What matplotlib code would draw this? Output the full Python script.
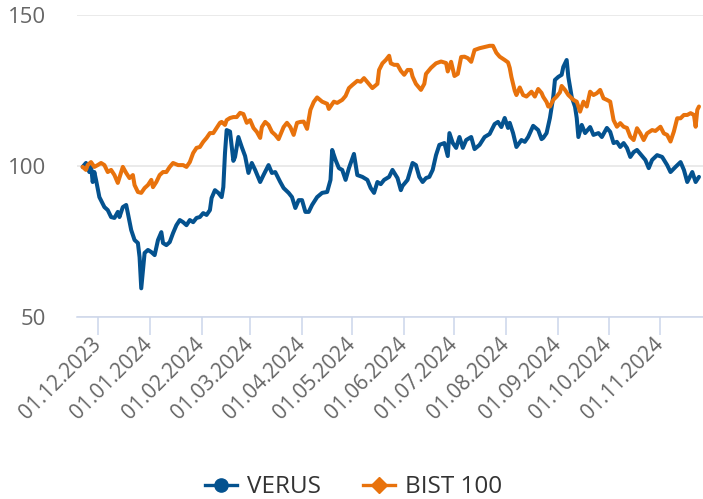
import matplotlib
matplotlib.use("Agg")
import matplotlib.pyplot as plt
import matplotlib.dates as mdates
from matplotlib.lines import Line2D
import pandas as pd

verus_dates = [
    "2023-11-22", "2023-11-24", "2023-11-26", "2023-11-27", "2023-11-28", "2023-11-29", "2023-11-30",
    "2023-12-02", "2023-12-05", "2023-12-07", "2023-12-09", "2023-12-11", "2023-12-13", "2023-12-14",
    "2023-12-16", "2023-12-18", "2023-12-19", "2023-12-21", "2023-12-23", "2023-12-25", "2023-12-26",
    "2023-12-27", "2023-12-29", "2023-12-31", "2024-01-02", "2024-01-04", "2024-01-06", "2024-01-08",
    "2024-01-09", "2024-01-11", "2024-01-13", "2024-01-15", "2024-01-17", "2024-01-19", "2024-01-21",
    "2024-01-23", "2024-01-25", "2024-01-27", "2024-01-29", "2024-01-31", "2024-02-02", "2024-02-04",
    "2024-02-06", "2024-02-07", "2024-02-09", "2024-02-11", "2024-02-13", "2024-02-14", "2024-02-15",
    "2024-02-16", "2024-02-18", "2024-02-20", "2024-02-21", "2024-02-23", "2024-02-25", "2024-02-27",
    "2024-02-29", "2024-03-02", "2024-03-04", "2024-03-07", "2024-03-09", "2024-03-12", "2024-03-14",
    "2024-03-16", "2024-03-19", "2024-03-21", "2024-03-24", "2024-03-26", "2024-03-28", "2024-03-30",
    "2024-04-01", "2024-04-03", "2024-04-05", "2024-04-07", "2024-04-10", "2024-04-13", "2024-04-16",
    "2024-04-18", "2024-04-19", "2024-04-21", "2024-04-23", "2024-04-25", "2024-04-27", "2024-04-29",
    "2024-05-02", "2024-05-04", "2024-05-07", "2024-05-10", "2024-05-12", "2024-05-14", "2024-05-16",
    "2024-05-18", "2024-05-20", "2024-05-23", "2024-05-25", "2024-05-28", "2024-05-30", "2024-05-31",
    "2024-06-03", "2024-06-06", "2024-06-08", "2024-06-10", "2024-06-12", "2024-06-14", "2024-06-16",
    "2024-06-18", "2024-06-20", "2024-06-22", "2024-06-25", "2024-06-27", "2024-06-28", "2024-06-30",
    "2024-07-02", "2024-07-04", "2024-07-06", "2024-07-08", "2024-07-11", "2024-07-13", "2024-07-16",
    "2024-07-19", "2024-07-22", "2024-07-25", "2024-07-27", "2024-07-29", "2024-07-31", "2024-08-02",
    "2024-08-03", "2024-08-05", "2024-08-07", "2024-08-10", "2024-08-12", "2024-08-14", "2024-08-17",
    "2024-08-20", "2024-08-22", "2024-08-23", "2024-08-25", "2024-08-27", "2024-08-29", "2024-08-30",
    "2024-09-01", "2024-09-03", "2024-09-04", "2024-09-06", "2024-09-07", "2024-09-09", "2024-09-11",
    "2024-09-12", "2024-09-13", "2024-09-15", "2024-09-17", "2024-09-20", "2024-09-22", "2024-09-25",
    "2024-09-27", "2024-09-30", "2024-10-02", "2024-10-04", "2024-10-06", "2024-10-08", "2024-10-10",
    "2024-10-12", "2024-10-14", "2024-10-16", "2024-10-18", "2024-10-20", "2024-10-23", "2024-10-25",
    "2024-10-27", "2024-10-30", "2024-11-02", "2024-11-05", "2024-11-07", "2024-11-10", "2024-11-13",
    "2024-11-15", "2024-11-17", "2024-11-20", "2024-11-22", "2024-11-24",
]
verus_values = [
    99.7, 101.0, 98.0, 100.3, 94.7, 98.0, 95.4,
    89.7, 86.4, 85.4, 83.1, 82.8, 84.8, 83.1,
    86.4, 87.1, 84.4, 78.8, 75.5, 74.5, 69.8,
    59.5, 71.2, 72.2, 71.5, 70.5, 75.5, 78.1,
    74.5, 73.8, 74.8, 77.8, 80.4, 82.1, 81.4,
    80.4, 82.1, 81.4, 82.8, 83.1, 84.4, 83.8,
    85.4, 89.4, 92.0, 91.1, 89.7, 93.0, 104.3,
    111.9, 111.4, 101.7, 103.0, 109.6, 106.3, 103.3,
    97.7, 101.0, 98.7, 94.7, 97.0, 100.3, 97.7,
    98.0, 94.7, 92.7, 91.1, 89.7, 86.1, 88.7,
    88.7, 84.8, 84.8, 87.1, 89.7, 91.1, 91.4,
    95.4, 105.3, 102.0, 99.3, 98.7, 95.4, 99.3,
    104.0, 97.0, 96.4, 95.4, 92.7, 91.1, 94.7,
    94.0, 95.4, 96.4, 98.7, 96.0, 92.0, 93.4,
    95.4, 101.0, 100.3, 96.4, 94.7, 96.0, 96.4,
    98.7, 103.6, 107.0, 107.6, 103.3, 110.9, 107.6,
    106.0, 109.6, 106.0, 108.6, 109.6, 105.6, 107.0,
    109.6, 110.6, 113.9, 114.6, 112.9, 115.9, 112.6,
    114.3, 110.9, 106.3, 108.6, 108.0, 109.6, 113.3,
    111.9, 108.9, 109.3, 110.9, 115.9, 122.9, 128.5,
    129.5, 130.2, 132.8, 135.1, 129.5, 122.9, 119.6,
    115.9, 109.6, 113.6, 110.9, 112.9, 110.3, 110.9,
    109.6, 112.6, 111.3, 107.6, 108.0, 106.3, 107.6,
    106.0, 103.0, 104.6, 105.3, 104.0, 102.0, 99.3,
    102.0, 103.6, 103.0, 100.3, 98.0, 99.7, 101.3,
    98.7, 94.7, 98.0, 94.7, 96.4,
]

bist_dates = [
    "2023-11-22", "2023-11-24", "2023-11-25", "2023-11-27", "2023-11-29", "2023-12-01", "2023-12-03",
    "2023-12-05", "2023-12-07", "2023-12-09", "2023-12-11", "2023-12-13", "2023-12-15", "2023-12-16",
    "2023-12-18", "2023-12-20", "2023-12-22", "2023-12-23", "2023-12-25", "2023-12-27", "2023-12-29",
    "2023-12-31", "2024-01-02", "2024-01-03", "2024-01-05", "2024-01-07", "2024-01-09", "2024-01-11",
    "2024-01-13", "2024-01-15", "2024-01-18", "2024-01-21", "2024-01-23", "2024-01-25", "2024-01-27",
    "2024-01-29", "2024-01-31", "2024-02-02", "2024-02-04", "2024-02-06", "2024-02-08", "2024-02-10",
    "2024-02-12", "2024-02-13", "2024-02-15", "2024-02-16", "2024-02-18", "2024-02-20", "2024-02-22",
    "2024-02-24", "2024-02-26", "2024-02-28", "2024-03-01", "2024-03-03", "2024-03-05", "2024-03-07",
    "2024-03-08", "2024-03-10", "2024-03-12", "2024-03-14", "2024-03-16", "2024-03-18", "2024-03-21",
    "2024-03-23", "2024-03-25", "2024-03-27", "2024-03-29", "2024-03-31", "2024-04-02", "2024-04-04",
    "2024-04-06", "2024-04-08", "2024-04-10", "2024-04-13", "2024-04-16", "2024-04-17", "2024-04-20",
    "2024-04-22", "2024-04-25", "2024-04-27", "2024-04-29", "2024-05-01", "2024-05-04", "2024-05-06",
    "2024-05-08", "2024-05-10", "2024-05-13", "2024-05-16", "2024-05-17", "2024-05-19", "2024-05-21",
    "2024-05-23", "2024-05-24", "2024-05-26", "2024-05-28", "2024-05-30", "2024-06-01", "2024-06-03",
    "2024-06-05", "2024-06-06", "2024-06-08", "2024-06-11", "2024-06-13", "2024-06-14", "2024-06-17",
    "2024-06-20", "2024-06-23", "2024-06-26", "2024-06-27", "2024-06-29", "2024-07-01", "2024-07-03",
    "2024-07-05", "2024-07-07", "2024-07-09", "2024-07-11", "2024-07-13", "2024-07-16", "2024-07-19",
    "2024-07-22", "2024-07-24", "2024-07-26", "2024-07-28", "2024-07-31", "2024-08-02", "2024-08-03",
    "2024-08-04", "2024-08-06", "2024-08-07", "2024-08-09", "2024-08-11", "2024-08-13", "2024-08-16",
    "2024-08-18", "2024-08-20", "2024-08-22", "2024-08-23", "2024-08-25", "2024-08-26", "2024-08-27",
    "2024-08-29", "2024-08-31", "2024-09-02", "2024-09-03", "2024-09-05", "2024-09-07", "2024-09-10",
    "2024-09-12", "2024-09-14", "2024-09-16", "2024-09-18", "2024-09-20", "2024-09-22", "2024-09-24",
    "2024-09-26", "2024-09-28", "2024-09-30", "2024-10-02", "2024-10-04", "2024-10-06", "2024-10-08",
    "2024-10-10", "2024-10-12", "2024-10-14", "2024-10-16", "2024-10-18", "2024-10-20", "2024-10-22",
    "2024-10-24", "2024-10-27", "2024-10-29", "2024-11-01", "2024-11-03", "2024-11-05", "2024-11-07",
    "2024-11-09", "2024-11-11", "2024-11-13", "2024-11-15", "2024-11-17", "2024-11-19", "2024-11-21",
    "2024-11-22", "2024-11-23", "2024-11-24",
]
bist_values = [
    99.7, 98.7, 100.3, 101.3, 99.7, 100.3, 101.0,
    100.3, 98.0, 98.7, 97.0, 94.4, 98.0, 99.7,
    97.7, 96.0, 97.0, 93.7, 91.4, 91.1, 92.7,
    93.7, 95.4, 93.0, 94.7, 97.0, 98.0, 98.0,
    99.7, 101.0, 100.3, 100.3, 99.7, 101.3, 104.3,
    106.0, 106.3, 108.0, 109.3, 110.9, 110.9, 112.6,
    114.3, 114.6, 113.6, 115.2, 115.9, 116.2, 116.2,
    117.6, 117.2, 114.3, 115.2, 112.6, 111.3, 109.3,
    112.9, 114.6, 113.6, 111.3, 110.3, 108.9, 112.9,
    114.3, 112.9, 110.3, 114.3, 114.6, 114.7, 112.3,
    118.6, 121.2, 122.7, 121.3, 120.6, 118.9, 121.3,
    120.9, 121.9, 123.2, 125.8, 126.8, 128.2, 127.9,
    129.1, 127.8, 125.8, 127.2, 131.8, 134.0, 135.1,
    136.5, 134.0, 133.5, 133.5, 131.5, 130.2, 131.8,
    131.8, 129.6, 127.2, 125.2, 127.2, 130.5, 132.5,
    134.0, 134.6, 134.1, 131.3, 134.5, 129.8, 130.5,
    136.1, 136.2, 135.7, 134.5, 138.4, 139.0, 139.4,
    139.8, 139.8, 137.5, 136.2, 135.1, 134.3, 132.5,
    129.5, 124.9, 123.5, 126.0, 123.5, 123.0, 124.6,
    123.0, 125.5, 124.2, 122.9, 121.2, 119.7, 119.7,
    121.9, 123.0, 124.4, 126.5, 125.2, 123.5, 121.9,
    121.3, 118.0, 121.3, 119.7, 124.6, 123.5, 124.1,
    125.2, 122.4, 121.9, 121.3, 115.2, 113.0, 114.2,
    113.0, 112.6, 109.7, 108.6, 112.5, 110.8, 108.6,
    110.8, 111.9, 111.6, 113.0, 110.8, 110.3, 108.1,
    111.4, 115.8, 115.8, 116.9, 116.9, 117.5, 116.9,
    113.0, 118.6, 119.7,
]

series_names = ["VERUS", "BIST 100"]
series_colors = ["#04528f", "#e8720c"]
month_ticks = pd.date_range("2023-12-01", "2024-11-01", freq="MS")
y_ticks = [50, 100, 150]

FONT = ["Open Sans", "DejaVu Sans"]
plt.rcParams["font.family"] = FONT

fig = plt.figure(figsize=(7.03, 4.99), dpi=100)
ax = fig.add_axes([77 / 703, 1 - 317 / 499, 1 - 77 / 703, (317 - 15) / 499])

vd = pd.to_datetime(verus_dates)
bd = pd.to_datetime(bist_dates)
ax.plot(vd, verus_values, color=series_colors[0], lw=2.9, solid_joinstyle="round",
        solid_capstyle="round", zorder=3)
ax.plot(bd, bist_values, color=series_colors[1], lw=2.9, solid_joinstyle="round",
        solid_capstyle="round", zorder=4)

x0 = pd.Timestamp("2023-12-01") - pd.Timedelta(days=12.36)
x1 = pd.Timestamp("2023-12-01") + pd.Timedelta(days=361.4)
ax.set_xlim(x0, x1)
ax.set_ylim(50, 150)

for s in ["top", "right", "left"]:
    ax.spines[s].set_visible(False)
ax.spines["bottom"].set_color("#ccd6eb")
ax.spines["bottom"].set_linewidth(1.1)

ax.set_yticks(y_ticks)
ax.yaxis.grid(True, color="#e6e6e6", lw=1.2)
ax.set_axisbelow(True)
ax.tick_params(axis="y", length=0, pad=22, labelsize=16, labelcolor="#666666")

ax.set_xticks(month_ticks)
ax.xaxis.set_major_formatter(mdates.DateFormatter("%d.%m.%Y"))
ax.tick_params(axis="x", length=13, width=1.1, color="#ccd6eb", pad=4.5,
               labelsize=15, labelcolor="#666666")
for lab in ax.get_xticklabels():
    lab.set_rotation(45)
    lab.set_ha("right")
    lab.set_va("center")
    lab.set_rotation_mode("anchor")

handles = [
    Line2D([], [], color=series_colors[0], lw=2.4, marker="o", markersize=9.5),
    Line2D([], [], color=series_colors[1], lw=2.4, marker="D", markersize=8),
]
fig.legend(handles, series_names, loc="center", bbox_to_anchor=(0.503, 0.024), ncol=2,
           frameon=False, fontsize=17.5, labelcolor="#333333", handlelength=1.32,
           handletextpad=0.42, columnspacing=1.72, borderaxespad=0, borderpad=0)

fig.savefig("out.png", dpi=100)
